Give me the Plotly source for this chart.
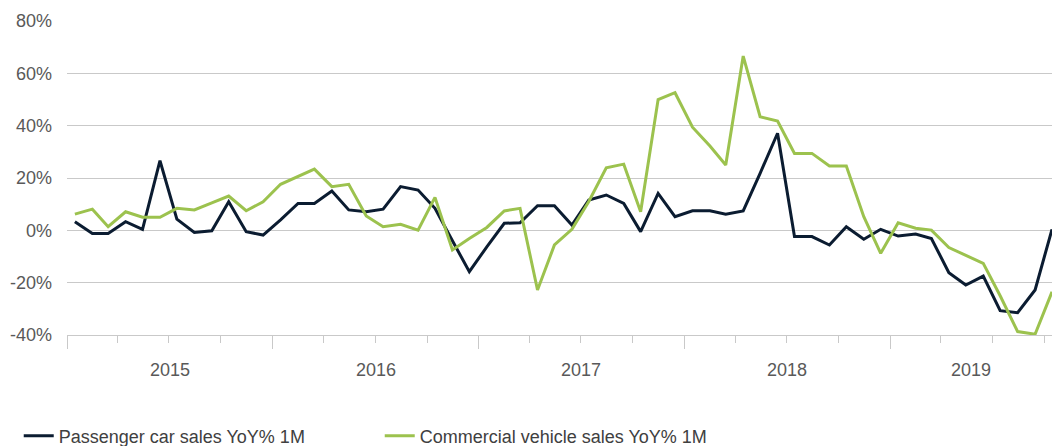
import plotly.graph_objects as go

# Monthly observations, Jan 2015 - Oct 2019 (plotted mid-month)
months = [f"{y}-{m:02d}-15" for y in range(2015, 2020) for m in range(1, 13)][:58]

passenger = [3.3, -1.2, -1.2, 3.3, 0.4, 26.6, 4.3, -0.8, -0.2, 10.9, -0.5, -1.8,
             4.0, 10.3, 10.3, 15.0, 7.8, 7.1, 8.1, 16.7, 15.4, 8.4, -4.0, -15.8,
             -6.3, 2.7, 2.9, 9.4, 9.4, 2.0, 11.6, 13.5, 10.3, -0.5, 14.1, 5.2,
             7.5, 7.5, 6.2, 7.4, 21.8, 37.1, -2.4, -2.4, -5.6, 1.4, -3.4, 0.4,
             -2.2, -1.4, -3.1, -16.2, -20.9, -17.5, -30.7, -31.5, -22.8, 0.4]

commercial = [6.2, 8.1, 1.4, 7.1, 5.0, 5.0, 8.4, 7.8, 10.5, 13.1, 7.5, 10.9,
              17.6, 20.5, 23.4, 16.7, 17.6, 5.5, 1.4, 2.3, 0.1, 12.6, -7.5, -3.1,
              1.1, 7.4, 8.4, -22.8, -5.6, 0.4, 11.0, 23.9, 25.3, 7.1, 50.0, 52.6,
              39.4, 32.2, 25.0, 66.6, 43.4, 41.8, 29.4, 29.4, 24.6, 24.6, 5.2, -8.8,
              2.9, 0.8, 0.1, -6.6, -9.5, -12.6, -25.0, -38.7, -39.7, -23.5]

series_names = ["Passenger car sales YoY% 1M", "Commercial vehicle sales YoY% 1M"]
series_colors = ["#0b1c31", "#9cc24e"]

year_ticks = ["2015-01-01", "2016-01-01", "2017-01-01", "2018-01-01", "2019-01-01"]
year_labels = ["2015", "2016", "2017", "2018", "2019"]
year_label_pos = ["2015-07-02", "2016-07-02", "2017-07-02", "2018-07-02", "2019-05-24"]
x_range = ["2015-01-01", "2019-10-15"]

y_ticks = [-40, -20, 0, 20, 40, 60, 80]
y_tick_text = [f"{v}%" for v in y_ticks]

TEXT = "#595959"
GRID = "#c9c9c9"
FONT = "Liberation Sans, Arial, sans-serif"

fig = go.Figure()
for vals, name, col in zip([passenger, commercial], series_names, series_colors):
    fig.add_trace(go.Scatter(x=months, y=vals, mode="lines", name=name,
                             line=dict(color=col, width=3)))

fig.update_layout(
    width=1052, height=446,
    margin=dict(l=67, r=0, t=21, b=111, autoexpand=False),
    plot_bgcolor="white", paper_bgcolor="white",
    font=dict(family=FONT, size=18, color=TEXT),
    showlegend=True,
    legend=dict(orientation="h", x=-0.049, xanchor="left", y=-0.322, yanchor="middle",
                font=dict(family=FONT, size=18, color="#404040"),
                entrywidth=316, bgcolor="rgba(0,0,0,0)"),
)

fig.update_xaxes(
    type="date", range=x_range,
    showgrid=False, zeroline=False,
    tickvals=year_ticks, showticklabels=False,
    ticks="outside", ticklen=13, tickwidth=1, tickcolor=GRID,
    showline=True, linecolor=GRID, linewidth=1,
    minor=dict(ticks="outside", ticklen=7, tickwidth=1, tickcolor=GRID,
               dtick="M3", tick0="2015-01-01", showgrid=False),
)

fig.update_yaxes(
    range=[-40, 80], tickvals=y_ticks, ticktext=y_tick_text,
    showgrid=True, gridcolor=GRID, gridwidth=1, zeroline=False,
    ticks="", ticklabelstandoff=14, showline=False,
)

for pos, lab in zip(year_label_pos, year_labels):
    fig.add_annotation(x=pos, xref="x", y=0, yref="paper", yshift=-35,
                       text=lab, showarrow=False, yanchor="middle",
                       font=dict(family=FONT, size=18, color=TEXT))

fig.write_html(
    "out.html",
    config={"displayModeBar": False},
    post_script="document.body.style.margin='0';document.body.style.overflow='hidden';",
)
